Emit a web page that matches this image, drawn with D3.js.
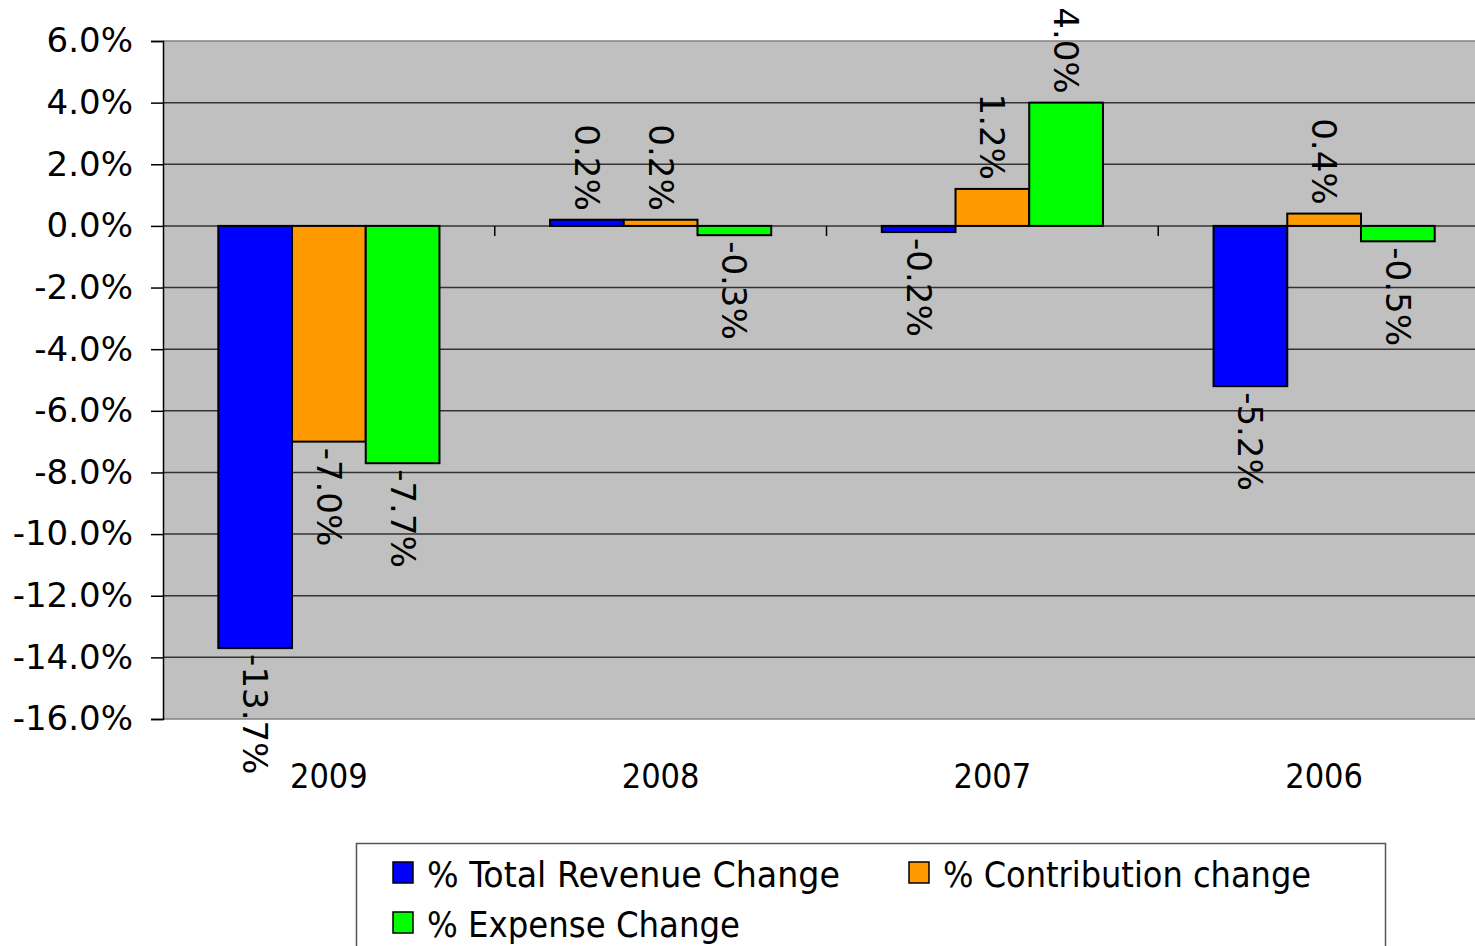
<!DOCTYPE html>
<html>
<head>
<meta charset="utf-8">
<script src="https://cdn.jsdelivr.net/npm/d3@7"></script>
<style>
  body { margin: 0; background: #fff; }
  text { font-family: "DejaVu Sans", Verdana, sans-serif; fill: #000; }
</style>
</head>
<body>
<div id="chart"></div>
<script>
// categories and series (values in percent)
var years = ['2009', '2008', '2007', '2006'];
var seriesNames = ['% Total Revenue Change', '% Contribution change', '% Expense Change'];
var revenueChange = [-13.7, 0.2, -0.2, -5.2];
var contributionChange = [-7.0, 0.2, 1.2, 0.4];
var expenseChange = [-7.7, -0.3, 4.0, -0.5];
var yTicks = [6, 4, 2, 0, -2, -4, -6, -8, -10, -12, -14, -16];

var colors = ['#0000ff', '#ff9900', '#00ff00'];

function main(){
    var W = 1475, H = 946;
    var margin = { top: 41, left: 163 },
        width  = 1327,
        height = 678;

    var series = [revenueChange, contributionChange, expenseChange];

    // flatten into rows for the bars
    var rows = [];
    years.forEach(function(y, i){
        series.forEach(function(s, j){
            rows.push({ year: y, key: seriesNames[j], value: s[i], idx: j });
        });
    });

    var x0 = d3.scaleBand().domain(years).range([0, width]).padding(0);
    var x1 = d3.scaleBand().domain(seriesNames)
               .range([0, x0.bandwidth()])
               .paddingInner(0).paddingOuter(0.75);
    var y = d3.scaleLinear().domain([-16, 6]).range([height, 0]);

    var svg = d3.select('#chart').append('svg')
                .attr('width', W)
                .attr('height', H);

    var g = svg.append('g')
               .attr('transform', 'translate(' + margin.left + ',' + margin.top + ')');

    // plot background
    g.append('rect')
     .attr('x', 0).attr('y', 0)
     .attr('width', width).attr('height', height)
     .attr('fill', '#c0c0c0');

    // gridlines
    g.selectAll('.grid')
     .data(yTicks)
     .enter().append('line')
       .attr('x1', 0).attr('x2', width)
       .attr('y1', function(d){ return y(d); })
       .attr('y2', function(d){ return y(d); })
       .attr('stroke', function(d){ return (d === 6 || d === -16) ? '#808080' : '#333'; })
       .attr('stroke-width', 1.5);

    // y axis
    var yAxis = g.append('g')
       .call(d3.axisLeft(y).tickValues(yTicks).tickSize(12).tickPadding(18)
              .tickFormat(function(d){ return d.toFixed(1) + '%'; }));
    yAxis.select('.domain').attr('stroke', '#000').attr('stroke-width', 1.5);
    yAxis.selectAll('.tick line').attr('stroke', '#000').attr('stroke-width', 1.5);
    yAxis.selectAll('.tick text')
         .style('font-family', '"DejaVu Sans", Verdana, sans-serif')
         .style('font-size', '34px')
         .attr('fill', '#000');

    // category boundary ticks on the zero line
    g.selectAll('.ctick')
     .data(years.slice(1))
     .enter().append('line')
       .attr('x1', function(d){ return x0(d); })
       .attr('x2', function(d){ return x0(d); })
       .attr('y1', y(0)).attr('y2', y(0) + 10)
       .attr('stroke', '#000').attr('stroke-width', 1.5);

    // category labels
    g.selectAll('.year')
     .data(years)
     .enter().append('text')
       .attr('x', function(d){ return x0(d) + x0.bandwidth() / 2; })
       .attr('y', height + 69)
       .attr('text-anchor', 'middle')
       .style('font-family', '"DejaVu Sans Condensed", "DejaVu Sans", sans-serif')
       .style('font-size', '34px')
       .text(function(d){ return d; });

    // bars
    g.selectAll('.bar')
     .data(rows)
     .enter().append('rect')
       .attr('x', function(d){ return x0(d.year) + x1(d.key); })
       .attr('width', x1.bandwidth())
       .attr('y', function(d){ return y(Math.max(0, d.value)); })
       .attr('height', function(d){ return Math.abs(y(d.value) - y(0)); })
       .attr('fill', function(d){ return colors[d.idx]; })
       .attr('stroke', '#000')
       .attr('stroke-width', 2);

    // rotated value labels
    g.selectAll('.lbl')
     .data(rows)
     .enter().append('text')
       .attr('transform', function(d){
           var cx = x0(d.year) + x1(d.key) + x1.bandwidth() / 2;
           var cy = d.value >= 0 ? y(d.value) - 9 : y(d.value) + 6;
           return 'translate(' + cx + ',' + cy + ') rotate(90)';
       })
       .attr('text-anchor', function(d){ return d.value >= 0 ? 'end' : 'start'; })
       .attr('dominant-baseline', 'central')
       .style('font-size', '34px')
       .text(function(d){ return d.value.toFixed(1) + '%'; });

    // legend
    var leg = svg.append('g');
    leg.append('rect')
       .attr('x', 356.5).attr('y', 843.5)
       .attr('width', 1029).attr('height', 130)
       .attr('fill', '#fff')
       .attr('stroke', '#555').attr('stroke-width', 1.5);

    var legPos = [[393, 862, 427, 413], [909, 862, 943, 368], [393, 912, 427, 313]];
    seriesNames.forEach(function(name, i){
        var p = legPos[i];
        leg.append('rect')
           .attr('x', p[0]).attr('y', p[1])
           .attr('width', 20).attr('height', 21)
           .attr('fill', colors[i])
           .attr('stroke', '#000').attr('stroke-width', 1.5);
        leg.append('text')
           .attr('x', p[2]).attr('y', p[1] + 25)
           .attr('textLength', p[3])
           .attr('lengthAdjust', 'spacingAndGlyphs')
           .style('font-family', '"DejaVu Sans Condensed", "DejaVu Sans", sans-serif')
           .style('font-size', '35px')
           .text(name);
    });
}

main();
</script>
</body>
</html>
